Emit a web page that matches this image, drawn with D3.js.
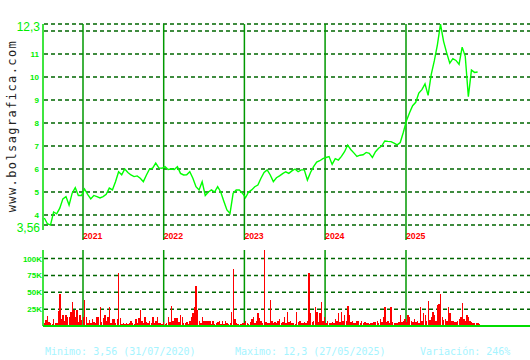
<!DOCTYPE html>
<meta charset="utf-8">
<style>
body { margin: 0; background: #fff; }
.grid { stroke: #006600; stroke-width: 1.5; stroke-dasharray: 4,3; }
.yearline { stroke: #009900; stroke-width: 1.5; }
.axisline { stroke: #00dd00; stroke-width: 1.5; }
.price { fill: none; stroke: #00ff00; stroke-width: 1.4; }
.vol { fill: #ff0000; }
.tick-lbl { fill: #00ee00; font: bold 8px "Liberation Sans", Arial, sans-serif; }
.big-lbl { fill: #00ee00; font: 12px "Liberation Sans", Arial, sans-serif; }
.year-lbl { fill: #ff0000; font: bold 8.7px "Liberation Sans", Arial, sans-serif; }
.foot { fill: #a6f4ff; font: 10px "DejaVu Sans Mono", monospace; }
.mark { fill: #222; font: 12px "DejaVu Sans Mono", monospace; letter-spacing: 1.4px; }
</style>
<svg width="530" height="360"></svg>
<script src="https://d3js.org/d3.v7.min.js"></script>
<script>

// closing price, one value every 14 days from 10/07/2020
var priceStart = "2020-07-10";
var prices = [
  3.87, 3.62, 3.56, 4.13, 4.05, 4.3, 4.7, 4.8, 4.43, 4.95,
  5.19, 4.85, 4.85, 5.13, 4.9, 4.7, 4.85, 4.8, 4.74, 4.8,
  4.9, 5.17, 5.09, 5.45, 5.88, 5.75, 6.0, 5.85, 5.74, 5.67,
  5.7, 5.6, 5.45, 5.74, 6.0, 6.04, 6.26, 6.05, 6.03, 6.1,
  5.98, 6.0, 5.98, 6.1, 5.81, 5.74, 5.75, 5.88, 5.6, 5.23,
  5.09, 5.45, 4.85, 5.0, 5.09, 5.0, 5.23, 5.0, 4.6, 4.22,
  4.07, 4.94, 5.09, 5.09, 4.95, 4.75, 5.0, 5.09, 5.23, 5.3,
  5.6, 5.85, 5.96, 5.74, 5.45, 5.62, 5.7, 5.8, 5.88, 5.81,
  5.92, 6.0, 5.88, 5.96, 5.96, 5.52, 5.85, 6.1, 6.3, 6.36,
  6.45, 6.5, 6.54, 6.2, 6.45, 6.39, 6.55, 6.75, 7.04, 6.85,
  6.7, 6.55, 6.6, 6.62, 6.72, 6.68, 6.5, 6.75, 6.9, 7.0,
  7.22, 7.2, 7.19, 7.12, 7.05, 7.15, 7.6, 8.1, 8.45, 8.75,
  8.9, 9.3, 9.45, 9.7, 9.2, 10.1, 10.7, 11.4, 12.3, 11.55,
  11.05, 10.6, 10.8, 10.72, 10.55, 11.3, 10.9, 9.14, 10.3, 10.2,
  10.22
];

// weekly volume in thousands, from 10/07/2020
var volStart = "2020-07-10";
var volumes = [
  5, 9, 15, 6, 4, 3, 11, 5, 4, 22,
  48, 10, 16, 7, 16, 14, 13, 21, 36, 24,
  13, 24, 6, 16, 9, 14, 39, 13, 5, 9,
  4, 11, 6, 5, 13, 14, 28, 6, 12, 16,
  7, 14, 28, 5, 11, 11, 4, 11, 79, 12,
  3, 4, 3, 4, 3, 4, 8, 4, 3, 11,
  5, 12, 24, 8, 4, 13, 6, 4, 8, 5,
  13, 4, 8, 13, 5, 4, 3, 6, 3, 5,
  13, 6, 29, 7, 12, 12, 12, 6, 16, 13,
  5, 4, 6, 3, 8, 13, 20, 28, 59, 24,
  8, 4, 14, 8, 8, 8, 8, 8, 3, 8,
  3, 4, 6, 8, 3, 8, 3, 8, 4, 3,
  5, 21, 85, 11, 4, 3, 2, 3, 5, 4,
  8, 5, 3, 6, 11, 13, 4, 8, 19, 12,
  8, 4, 113, 6, 5, 4, 39, 8, 5, 6,
  4, 7, 11, 5, 6, 13, 5, 21, 6, 8,
  4, 5, 3, 21, 6, 8, 4, 5, 6, 4,
  7, 79, 19, 6, 8, 28, 21, 6, 19, 36,
  8, 13, 5, 8, 4, 5, 6, 4, 11, 7,
  19, 6, 21, 8, 16, 7, 29, 16, 6, 8,
  5, 5, 7, 8, 4, 8, 5, 6, 4, 4,
  3, 5, 4, 6, 6, 8, 5, 11, 6, 13,
  28, 6, 8, 4, 28, 6, 5, 4, 5, 6,
  16, 6, 8, 11, 6, 16, 13, 8, 6, 11,
  6, 8, 5, 28, 8, 19, 16, 7, 37, 9,
  13, 21, 16, 8, 31, 32, 47, 13, 9, 11,
  8, 28, 19, 7, 8, 6, 6, 8, 10, 13,
  34, 11, 8, 16, 13, 8, 6, 4, 5, 4,
  5, 3
];

var years = [2021, 2022, 2023, 2024, 2025];
var priceTicks = [4, 5, 6, 7, 8, 9, 10, 11, 12];
var priceTickLabels = ["4", "5", "6", "7", "8", "9", "10", "11", ""];
var priceExtremes = [12.3, 3.56];
var priceExtremeLabels = ["12,3", "3,56"];
var volTicks = [25, 50, 75, 100];
var volTickLabels = ["25K", "50K", "75K", "100K"];
var footer = ["Minimo: 3,56 (31/07/2020)", "Maximo: 12,3 (27/05/2025)", "Variación: 246%"];

var svg = d3.select("svg");
var parse = d3.timeParse("%Y-%m-%d");

var x = d3.scaleTime()
    .domain([new Date(2021, 0, 1), new Date(2025, 0, 1)])
    .range([83, 406]);
var y = d3.scaleLinear().domain([4, 12]).range([215, 31]);
var yv = d3.scaleLinear().domain([0, 100]).range([326, 258.5]);

var priceData = prices.map(function(v, i) {
  return { date: d3.timeDay.offset(parse(priceStart), 14 * i), value: v };
});
var volData = volumes.map(function(v, i) {
  return { date: d3.timeDay.offset(parse(volStart), 7 * i), value: v };
});

// watermark
svg.append("text")
    .attr("class", "mark")
    .attr("transform", "translate(16,126) rotate(-90)")
    .attr("text-anchor", "middle")
    .text("www.bolsagrafica.com");

// price grid
svg.append("g").selectAll("line")
    .data(priceTicks.concat(priceExtremes))
    .enter().append("line")
    .attr("class", "grid")
    .attr("x1", 44).attr("x2", 530)
    .attr("y1", function(d) { return y(d); })
    .attr("y2", function(d) { return y(d); });

// volume grid
svg.append("g").selectAll("line")
    .data(volTicks)
    .enter().append("line")
    .attr("class", "grid")
    .attr("x1", 44).attr("x2", 530)
    .attr("y1", function(d) { return yv(d); })
    .attr("y2", function(d) { return yv(d); });

// year separators
var yr = svg.append("g").selectAll("g")
    .data(years)
    .enter().append("g");
yr.append("line")
    .attr("class", "yearline")
    .attr("x1", function(d) { return x(new Date(d, 0, 1)); })
    .attr("x2", function(d) { return x(new Date(d, 0, 1)); })
    .attr("y1", y(12.3)).attr("y2", 240);
yr.append("line")
    .attr("class", "yearline")
    .attr("x1", function(d) { return x(new Date(d, 0, 1)); })
    .attr("x2", function(d) { return x(new Date(d, 0, 1)); })
    .attr("y1", 250).attr("y2", yv(0));
yr.append("text")
    .attr("class", "year-lbl")
    .attr("x", function(d) { return x(new Date(d, 0, 1)); })
    .attr("y", 239)
    .text(function(d) { return d; });

// volume bars
svg.append("g").selectAll("rect")
    .data(volData)
    .enter().append("rect")
    .attr("class", "vol")
    .attr("shape-rendering", "crispEdges")
    .attr("x", function(d) { return x(d.date) - 0.5; })
    .attr("width", 1.4)
    .attr("y", function(d) { return yv(d.value); })
    .attr("height", function(d) { return yv(0) - yv(d.value); });

// price line
var line = d3.line()
    .x(function(d) { return x(d.date); })
    .y(function(d) { return y(d.value); });
svg.append("path")
    .datum(priceData)
    .attr("class", "price")
    .attr("d", line);

// axes lines
svg.append("line").attr("class", "axisline")
    .attr("x1", 43).attr("x2", 43).attr("y1", y(12.3)).attr("y2", 230);
svg.append("line").attr("class", "axisline")
    .attr("x1", 43).attr("x2", 43).attr("y1", 250).attr("y2", yv(0));
svg.append("line").attr("class", "axisline")
    .attr("x1", 43).attr("x2", 530).attr("y1", yv(0)).attr("y2", yv(0))
    .style("stroke-width", 2);

// price labels
svg.append("g").selectAll("text")
    .data(priceTicks)
    .enter().append("text")
    .attr("class", "tick-lbl")
    .attr("x", 39)
    .attr("y", function(d) { return y(d) + 3; })
    .attr("text-anchor", "end")
    .text(function(d, i) { return priceTickLabels[i]; });
svg.append("g").selectAll("text")
    .data(priceExtremes)
    .enter().append("text")
    .attr("class", "big-lbl")
    .attr("x", 40)
    .attr("y", function(d) { return y(d) + 7; })
    .attr("text-anchor", "end")
    .text(function(d, i) { return priceExtremeLabels[i]; });

// volume labels
svg.append("g").selectAll("text")
    .data(volTicks)
    .enter().append("text")
    .attr("class", "tick-lbl")
    .attr("x", 42)
    .attr("y", function(d) { return yv(d) + 3; })
    .attr("text-anchor", "end")
    .text(function(d, i) { return volTickLabels[i]; });

// footer
svg.append("g").selectAll("text")
    .data(footer)
    .enter().append("text")
    .attr("class", "foot")
    .attr("x", function(d, i) { return [45, 235, 420][i]; })
    .attr("y", 355)
    .text(function(d) { return d; });

</script>
